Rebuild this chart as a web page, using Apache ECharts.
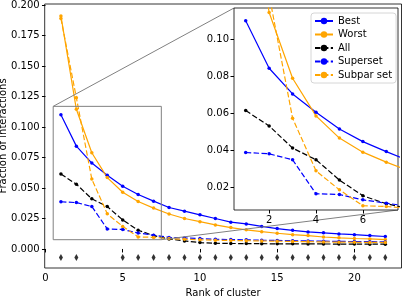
<!DOCTYPE html>
<html>
<head>
<meta charset="utf-8">
<script src="https://cdn.jsdelivr.net/npm/echarts@6/dist/echarts.min.js"></script>
<style>
html, body { margin: 0; padding: 0; background: #fff; }
#chart { width: 402px; height: 302px; }
</style>
</head>
<body>
<div id="chart"></div>
<script>
// cluster ranks 1..22
const ranks = [1, 2, 3, 4, 5, 6, 7, 8, 9, 10, 11, 12, 13, 14, 15, 16, 17, 18, 19, 20, 21, 22]
const best = [0.110, 0.0843, 0.0704, 0.0605, 0.0514, 0.0446, 0.0392, 0.034, 0.031, 0.028, 0.025, 0.022, 0.0205, 0.0185, 0.0167, 0.0153, 0.014, 0.0132, 0.0123, 0.0117, 0.011, 0.0102]
const worst = [0.191, 0.1145, 0.0789, 0.0585, 0.0465, 0.0389, 0.0335, 0.0287, 0.025, 0.0224, 0.0197, 0.0175, 0.0157, 0.0142, 0.0129, 0.0117, 0.011, 0.0098, 0.0091, 0.0086, 0.0082, 0.0077]
const all = [0.0614, 0.0531, 0.0411, 0.0348, 0.0238, 0.0153, 0.011, 0.0082, 0.0066, 0.0052, 0.0047, 0.0045, 0.0044, 0.0043, 0.0042, 0.0042, 0.0041, 0.0041, 0.004, 0.004, 0.0039, 0.0039]
const superset = [0.0387, 0.038, 0.0348, 0.0164, 0.016, 0.0131, 0.0113, 0.0095, 0.009, 0.0085, 0.008, 0.0077, 0.0075, 0.0072, 0.007, 0.0068, 0.0066, 0.0064, 0.0062, 0.0061, 0.006, 0.0058]
const subpar = [0.189, 0.124, 0.0573, 0.0288, 0.0185, 0.0099, 0.0095, 0.0085, 0.008, 0.0075, 0.0072, 0.007, 0.0068, 0.0066, 0.0064, 0.0062, 0.006, 0.0058, 0.0056, 0.0055, 0.0054, 0.0053]
// ranks marked with a diamond under the curves
const markedRanks = [1, 2, 5, 6, 7, 8, 9, 10, 11, 12, 13, 14, 15, 16, 17, 18, 19, 20, 21, 22]
const markLevel = -0.007

const xTicks = [0, 5, 10, 15, 20]
const yTicks = [0, 0.025, 0.05, 0.075, 0.1, 0.125, 0.15, 0.175, 0.2]
const insetXTicks = [2, 4, 6]
const insetYTicks = [0.02, 0.04, 0.06, 0.08, 0.10]
const zoomX = [0.5, 7.5]
const zoomY = [0.0076, 0.1169]

const chart = echarts.init(document.getElementById('chart'))

const lineDefs = [
  { name: 'Best', data: best, color: '#0000ff', type: 'solid' },
  { name: 'Worst', data: worst, color: '#ffa500', type: 'solid' },
  { name: 'All', data: all, color: '#000000', type: [5.5, 2.4] },
  { name: 'Superset', data: superset, color: '#0000ff', type: [5.5, 2.4] },
  { name: 'Subpar set', data: subpar, color: '#ffa500', type: [5.5, 2.4] }
]

function makeSeries(def, idx, z) {
  return {
    name: def.name,
    type: 'line',
    xAxisIndex: idx,
    yAxisIndex: idx,
    data: ranks.map((r, i) => [r, def.data[i]]),
    symbol: 'circle',
    symbolSize: 3.5,
    showSymbol: true,
    clip: true,
    z: z,
    animation: false,
    itemStyle: { color: def.color },
    lineStyle: { color: def.color, width: 1.2, type: def.type }
  }
}

const series = []
lineDefs.forEach(d => series.push(makeSeries(d, 0, 2)))
lineDefs.forEach(d => series.push(makeSeries(d, 1, 7)))
series.push({
  name: 'marks',
  type: 'scatter',
  xAxisIndex: 0,
  yAxisIndex: 0,
  data: markedRanks.map(r => [r, markLevel]),
  symbol: 'diamond',
  symbolSize: [4, 7],
  itemStyle: { color: '#000' },
  animation: false
})

const labelStyle = { color: '#000', fontSize: 10, fontFamily: 'DejaVu Sans' }

chart.setOption({
  textStyle: { fontFamily: 'DejaVu Sans' },
  animation: false,
  grid: [
    { left: 44.7, right: 0.5, top: 4, bottom: 34, outerBoundsMode: 'none', containLabel: false, show: true, borderColor: '#000', borderWidth: 0.8, backgroundColor: 'transparent' },
    { left: 234, right: 4, top: 8, bottom: 92, outerBoundsMode: 'none', containLabel: false, show: true, borderColor: '#000', borderWidth: 0.8, backgroundColor: '#fff', z: 5 }
  ],
  xAxis: [
    {
      type: 'value', gridIndex: 0, min: -0.05, max: 23.05,
      name: 'Rank of cluster', nameLocation: 'middle', nameGap: 20, nameMoveOverlap: false,
      nameTextStyle: labelStyle,
      axisLine: { show: false },
      axisTick: { show: true, length: 3.5, customValues: xTicks, lineStyle: { color: '#000' } },
      axisLabel: Object.assign({ margin: 5, customValues: xTicks, showMinLabel: true, showMaxLabel: true }, labelStyle),
      splitLine: { show: false }
    },
    {
      type: 'value', gridIndex: 1, min: zoomX[0], max: zoomX[1], z: 6,
      axisLine: { show: false },
      axisTick: { show: true, length: 3.5, customValues: insetXTicks, lineStyle: { color: '#000' } },
      axisLabel: Object.assign({ margin: 5, customValues: insetXTicks }, labelStyle),
      splitLine: { show: false }
    }
  ],
  yAxis: [
    {
      type: 'value', gridIndex: 0, min: -0.0156, max: 0.2008,
      name: 'Fraction of interactions', nameLocation: 'middle', nameGap: 36, nameMoveOverlap: false,
      nameTextStyle: labelStyle,
      axisLine: { show: false },
      axisTick: { show: true, length: 3.5, customValues: yTicks, lineStyle: { color: '#000' } },
      axisLabel: Object.assign({ margin: 5, customValues: yTicks, formatter: v => v.toFixed(3) }, labelStyle),
      splitLine: { show: false }
    },
    {
      type: 'value', gridIndex: 1, min: zoomY[0], max: zoomY[1], z: 6,
      axisLine: { show: false },
      axisTick: { show: true, length: 3.5, customValues: insetYTicks, lineStyle: { color: '#000' } },
      axisLabel: Object.assign({ margin: 5, customValues: insetYTicks, formatter: v => v.toFixed(2) }, labelStyle),
      splitLine: { show: false }
    }
  ],
  legend: {
    data: lineDefs.map(d => d.name),
    orient: 'vertical',
    left: 311,
    top: 13,
    z: 10,
    itemWidth: 18,
    itemHeight: 8,
    itemGap: 3.5,
    padding: [3, 4, 3, 3],
    backgroundColor: 'rgba(255,255,255,0.8)',
    borderColor: '#cccccc',
    borderWidth: 0.8,
    borderRadius: 3,
    textStyle: { color: '#000', fontSize: 10, fontFamily: 'DejaVu Sans', lineHeight: 10 }
  },
  series: series
})

// zoom rectangle on the main axes and the two connector lines to the inset
const p = (g, v) => chart.convertToPixel({ gridIndex: g }, v)
const a = p(0, [zoomX[0], zoomY[1]])
const b = p(0, [zoomX[1], zoomY[0]])
const c = p(1, [zoomX[0], zoomY[1]])
const d = p(1, [zoomX[1], zoomY[0]])
const gray = { stroke: '#808080', lineWidth: 1, fill: 'none' }
chart.setOption({
  graphic: [
    { type: 'rect', z: 3, shape: { x: a[0], y: a[1], width: b[0] - a[0], height: b[1] - a[1] }, style: gray },
    { type: 'line', z: 3, shape: { x1: a[0], y1: a[1], x2: c[0], y2: c[1] }, style: gray },
    { type: 'line', z: 3, shape: { x1: b[0], y1: b[1], x2: d[0], y2: d[1] }, style: gray }
  ]
})
</script>
</body>
</html>
